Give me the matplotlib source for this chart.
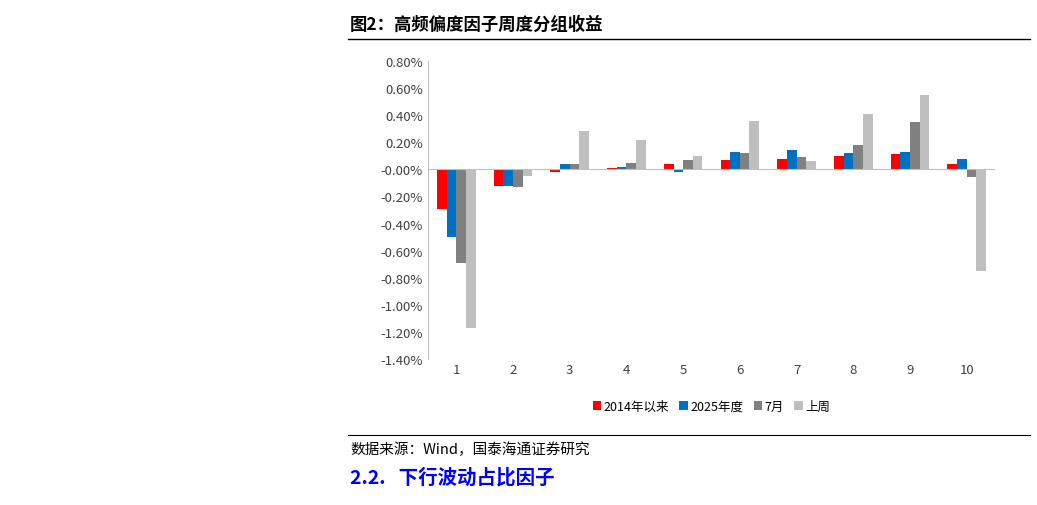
import numpy as np
import matplotlib.pyplot as plt
from matplotlib.ticker import FuncFormatter

plt.rcParams['font.family'] = ['Noto Sans CJK SC', 'DejaVu Sans']

groups = ['1', '2', '3', '4', '5', '6', '7', '8', '9', '10']
s_2014 = [-0.29, -0.12, -0.02, 0.01, 0.04, 0.07, 0.08, 0.10, 0.11, 0.04]
s_2025 = [-0.50, -0.12, 0.04, 0.02, -0.02, 0.13, 0.14, 0.12, 0.13, 0.08]
s_jul = [-0.69, -0.13, 0.04, 0.05, 0.07, 0.12, 0.09, 0.18, 0.35, -0.06]
s_week = [-1.17, -0.05, 0.28, 0.22, 0.10, 0.36, 0.06, 0.41, 0.55, -0.75]
names = ['2014年以来', '2025年度', '7月', '上周']
colors = ['#ff0000', '#0070c0', '#808080', '#bfbfbf']

fig = plt.figure(figsize=(10.37, 5.06), dpi=100)
ax = fig.add_axes([428 / 1037, 1 - 360 / 506, (995 - 428) / 1037, 298 / 506])

x = np.arange(len(groups))
w = 0.17
for i, (s, n, c) in enumerate(zip([s_2014, s_2025, s_jul, s_week], names, colors)):
    ax.bar(x + (i - 1.5) * w, s, w, color=c, label=n)

ax.set_ylim(-1.4, 0.8)
ax.set_yticks(np.arange(-1.4, 0.81, 0.2))
ax.yaxis.set_major_formatter(FuncFormatter(lambda v, p: f'{v:.2f}%'))
ax.set_xlim(-0.5, 9.5)
ax.set_xticks([])
for xi, g in zip(x, groups):
    ax.text(xi, -1.43, g, ha='center', va='top', fontsize=9.5, color='#404040')
ax.axhline(0, color='#bfbfbf', lw=0.8)
for sp in ['top', 'right', 'bottom']:
    ax.spines[sp].set_visible(False)
ax.spines['left'].set_color('#bfbfbf')
ax.tick_params(axis='y', length=0, labelsize=9.5, labelcolor='#404040')
ax.legend(loc='upper center', bbox_to_anchor=(0.5, -0.1), ncol=4, frameon=False,
          fontsize=9, handlelength=0.7, handleheight=0.7, columnspacing=0.8, handletextpad=0.2)

fig.text(350 / 1037, 1 - 25 / 506, '图2：高频偏度因子周度分组收益', fontsize=12.5, fontweight='bold', va='center')
fig.add_artist(plt.Line2D([348 / 1037, 1030 / 1037], [1 - 40 / 506] * 2, color='black', lw=1))
fig.add_artist(plt.Line2D([348 / 1037, 1030 / 1037], [1 - 436 / 506] * 2, color='black', lw=0.8))
fig.text(350 / 1037, 1 - 450 / 506, '数据来源：Wind，国泰海通证券研究', fontsize=10.5, va='center')
fig.text(350 / 1037, 1 - 478 / 506, '2.2.   下行波动占比因子', fontsize=14, fontweight='bold',
         color='#0000ff', va='center')

fig.savefig('out.png', dpi=100)
